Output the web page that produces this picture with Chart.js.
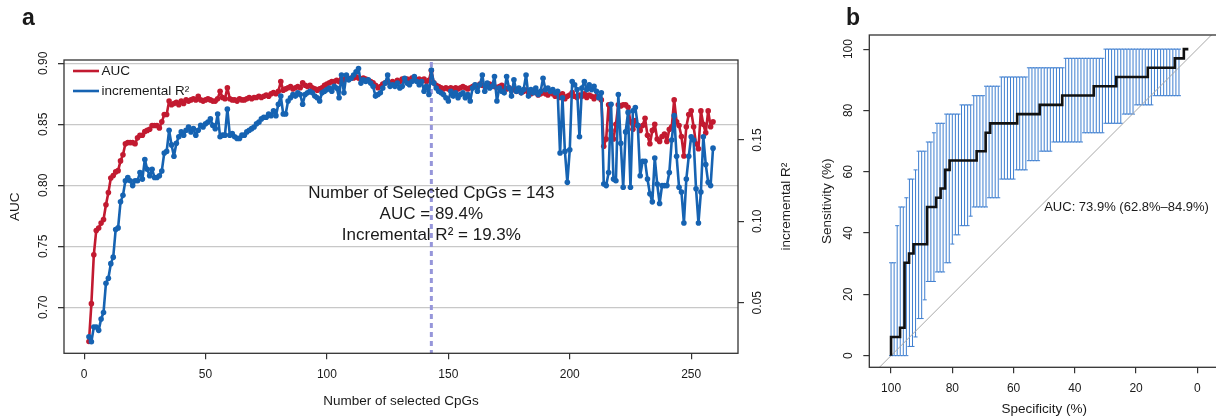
<!DOCTYPE html>
<html><head><meta charset="utf-8">
<script src="https://cdn.jsdelivr.net/npm/chart.js@4.4.1/dist/chart.umd.min.js"></script>
<style>
html,body{margin:0;padding:0;background:#fff;overflow:hidden;width:1216px;height:418px;}
#ca{position:absolute;left:0;top:0;}
#cb{position:absolute;left:800px;top:0;}
</style></head><body>
<canvas id="ca" width="800" height="418"></canvas>
<canvas id="cb" width="430" height="418"></canvas>
<script>
// ---------- Panel a data ----------
const nStart = 2;
const aucValues = [
0.672,0.703,0.743,0.763,0.765,0.769,0.772,0.784,0.794,0.806,
0.808,0.811,0.812,0.820,0.825,0.834,0.835,0.835,0.835,0.834,
0.839,0.841,0.841,0.844,0.845,0.846,0.849,0.849,0.849,0.847,
0.852,0.858,0.858,0.869,0.866,0.867,0.868,0.866,0.869,0.867,
0.870,0.869,0.870,0.871,0.870,0.873,0.870,0.869,0.870,0.871,
0.870,0.869,0.869,0.871,0.877,0.872,0.871,0.880,0.871,0.870,
0.870,0.869,0.871,0.870,0.870,0.871,0.872,0.871,0.872,0.872,
0.873,0.872,0.873,0.874,0.873,0.875,0.876,0.875,0.877,0.885,
0.878,0.879,0.880,0.881,0.879,0.880,0.881,0.880,0.884,0.882,
0.881,0.882,0.880,0.879,0.878,0.879,0.880,0.882,0.883,0.884,
0.885,0.885,0.886,0.885,0.887,0.886,0.888,0.887,0.888,0.888,
0.889,0.888,0.887,0.888,0.887,0.886,0.885,0.884,0.882,0.880,
0.881,0.883,0.884,0.885,0.884,0.885,0.884,0.886,0.885,0.887,
0.886,0.887,0.886,0.888,0.887,0.886,0.887,0.886,0.887,0.885,
0.886,0.894,0.884,0.882,0.881,0.880,0.879,0.880,0.879,0.880,
0.879,0.880,0.879,0.880,0.881,0.880,0.879,0.880,0.881,0.882,
0.881,0.883,0.882,0.881,0.882,0.883,0.882,0.881,0.880,0.881,
0.882,0.880,0.879,0.880,0.878,0.879,0.877,0.878,0.876,0.877,
0.878,0.876,0.875,0.877,0.876,0.874,0.875,0.877,0.875,0.874,
0.876,0.875,0.873,0.874,0.872,0.875,0.871,0.873,0.874,0.876,
0.873,0.872,0.874,0.873,0.875,0.872,0.874,0.873,0.871,0.873,
0.872,0.870,0.832,0.838,0.866,0.845,0.838,0.850,0.866,0.865,
0.866,0.866,0.864,0.852,0.846,0.853,0.849,0.845,0.849,0.855,
0.841,0.834,0.845,0.850,0.838,0.836,0.840,0.842,0.836,0.846,
0.848,0.870,0.852,0.849,0.840,0.824,0.848,0.858,0.861,0.848,
0.834,0.830,0.861,0.850,0.843,0.861,0.848,0.852];
const r2Values = [
0.029,0.026,0.035,0.035,0.033,0.040,0.044,0.062,0.065,0.074,
0.078,0.095,0.096,0.112,0.116,0.125,0.127,0.125,0.122,0.125,
0.125,0.130,0.126,0.138,0.132,0.128,0.132,0.127,0.127,0.128,
0.131,0.142,0.143,0.156,0.147,0.140,0.148,0.152,0.155,0.153,
0.156,0.158,0.155,0.157,0.153,0.156,0.159,0.158,0.160,0.161,
0.163,0.159,0.157,0.166,0.152,0.153,0.153,0.169,0.153,0.154,
0.152,0.151,0.151,0.153,0.153,0.155,0.156,0.157,0.158,0.160,
0.161,0.163,0.164,0.164,0.166,0.165,0.168,0.165,0.172,0.177,
0.166,0.166,0.174,0.176,0.178,0.177,0.179,0.178,0.172,0.178,
0.179,0.180,0.179,0.177,0.176,0.174,0.179,0.180,0.181,0.182,
0.180,0.183,0.182,0.176,0.190,0.179,0.190,0.187,0.188,0.190,
0.192,0.194,0.185,0.187,0.186,0.187,0.185,0.183,0.177,0.178,
0.179,0.182,0.185,0.190,0.183,0.184,0.183,0.185,0.182,0.183,
0.188,0.185,0.184,0.186,0.189,0.186,0.184,0.186,0.180,0.183,
0.178,0.193,0.185,0.182,0.180,0.179,0.178,0.176,0.174,0.180,
0.177,0.179,0.176,0.178,0.179,0.176,0.178,0.174,0.182,0.184,
0.180,0.184,0.190,0.180,0.185,0.182,0.183,0.189,0.174,0.182,
0.180,0.179,0.189,0.182,0.177,0.187,0.180,0.182,0.179,0.181,
0.190,0.177,0.181,0.179,0.182,0.178,0.180,0.188,0.181,0.182,
0.180,0.181,0.179,0.180,0.142,0.176,0.143,0.124,0.144,0.186,
0.184,0.181,0.152,0.182,0.186,0.181,0.184,0.181,0.183,0.180,
0.176,0.179,0.123,0.122,0.130,0.172,0.126,0.125,0.178,0.148,
0.121,0.155,0.167,0.121,0.168,0.170,0.159,0.128,0.137,0.137,
0.126,0.117,0.112,0.139,0.123,0.111,0.122,0.122,0.122,0.130,
0.150,0.165,0.140,0.121,0.118,0.099,0.126,0.140,0.152,0.150,
0.120,0.099,0.118,0.152,0.135,0.124,0.122,0.145];
const nCpGs = aucValues.map((_, i) => nStart + i);
const seriesNames = ['AUC', 'incremental R\u00B2'];
const xTicksA = [0, 50, 100, 150, 200, 250];
const aucTicks = [0.70, 0.75, 0.80, 0.85, 0.90];
const r2Ticks = [0.05, 0.10, 0.15];
const selectedN = 143;
const annotationLines = ['Number of Selected CpGs = 143', 'AUC = 89.4%', 'Incremental R\u00B2 = 19.3%'];

// ---------- Panel b data ----------
const rocSpec = [100, 97.06, 95.59, 94.12, 92.65, 88.24, 85.29, 83.82, 82.35, 80.88, 72.06, 69.12, 67.65, 58.82, 51.47, 44.12, 33.82, 26.47, 16.18, 7.35, 4.41, 2.94];
const rocSens = [0, 6.06, 9.09, 30.30, 33.33, 36.36, 48.48, 51.52, 54.55, 60.61, 63.64, 66.67, 72.73, 75.76, 78.79, 81.82, 84.85, 87.88, 90.91, 93.94, 96.97, 100];
const ciSpec = [100,99,98,97,96,95,94,93,92,91,90,89,88,87,86,85,84,83,82,81,80,79,78,77,76,75,74,73,72,71,70,69,68,67,66,65,64,63,62,61,60,59,58,57,56,55,54,53,52,51,50,49,48,47,46,45,44,43,42,41,40,39,38,37,36,35,34,33,32,31,30,29,28,27,26,25,24,23,22,21,20,19,18,17,16,15,14,13,12,11,10,9,8,7,6];
const ciLower = [
0,0,0,0,0,0,3.0,3.0,6.1,12.1,
12.1,18.2,24.2,24.2,24.2,27.3,27.3,27.3,30.3,30.3,
36.4,39.4,39.4,42.4,42.4,42.4,45.5,48.5,48.5,48.5,
48.5,48.5,51.5,51.5,51.5,51.5,57.6,57.6,57.6,57.6,
57.6,60.6,60.6,60.6,60.6,63.6,63.6,63.6,63.6,66.7,
66.7,66.7,66.7,69.7,69.7,69.7,69.7,69.7,69.7,69.7,
69.7,69.7,69.7,72.7,72.7,72.7,72.7,72.7,72.7,72.7,
75.8,75.8,75.8,75.8,75.8,75.8,78.8,78.8,78.8,78.8,
81.8,81.8,81.8,81.8,81.8,81.8,84.8,84.8,84.8,84.8,
84.8,84.8,84.8,84.8,84.8];
const ciUpper = [
30.3,30.3,42.4,48.5,48.5,51.5,57.6,57.6,60.6,66.7,
66.7,66.7,69.7,69.7,72.7,75.8,75.8,75.8,78.8,78.8,
78.8,78.8,78.8,81.8,81.8,81.8,81.8,84.8,84.8,84.8,
84.8,87.9,87.9,87.9,87.9,87.9,90.9,90.9,90.9,90.9,
90.9,90.9,90.9,90.9,90.9,93.9,93.9,93.9,93.9,93.9,
93.9,93.9,93.9,93.9,93.9,93.9,93.9,97.0,97.0,97.0,
97.0,97.0,97.0,97.0,97.0,97.0,97.0,97.0,97.0,97.0,
100,100,100,100,100,100,100,100,100,100,
100,100,100,100,100,100,100,100,100,100,
100,100,100,100,100];
const chanceSpec = [110, -10];
const chanceSens = [-10, 110];
const xTicksB = [100, 80, 60, 40, 20, 0];
const yTicksB = [0, 20, 40, 60, 80, 100];
const aucLabel = 'AUC: 73.9% (62.8%\u201384.9%)';
const aucLabelPos = [50, 50];

// ---------- styles ----------
const FONT = '"Liberation Sans", Arial, Helvetica, sans-serif';
const RED = '#c21a30';
const BLUE = '#1663b2';
const CI = '#3f7fd0';
const AXIS = '#333333';
const GRID = '#c8c8c8';
const TXT = '#1a1a1a';

function rotText(ctx, txt, x, y) {
  ctx.save(); ctx.translate(x, y); ctx.rotate(-Math.PI / 2);
  ctx.textAlign = 'center'; ctx.textBaseline = 'middle';
  ctx.fillText(txt, 0, 0); ctx.restore();
}
const fixTicks = arr => s => { s.ticks = arr.map(v => ({ value: v })); };

const panelA = {
  id: 'panelA',
  beforeDatasetsDraw(chart) {
    const { ctx, chartArea: ca, scales: { x } } = chart;
    const px = x.getPixelForValue(selectedN);
    ctx.save();
    ctx.strokeStyle = '#9696da'; ctx.lineWidth = 3; ctx.setLineDash([5, 4]);
    ctx.beginPath(); ctx.moveTo(px, ca.top + 2); ctx.lineTo(px, ca.bottom); ctx.stroke();
    ctx.restore();
  },
  afterDatasetsDraw(chart) {
    const { ctx, chartArea: ca, scales: { x, y, y2 } } = chart;
    ctx.save();
    ctx.strokeStyle = AXIS; ctx.lineWidth = 1.3;
    ctx.strokeRect(ca.left, ca.top, ca.right - ca.left, ca.bottom - ca.top);
    ctx.fillStyle = TXT;
    ctx.font = '12px ' + FONT;
    ctx.textAlign = 'center'; ctx.textBaseline = 'middle';
    xTicksA.forEach(v => ctx.fillText(String(v), x.getPixelForValue(v), 375));
    aucTicks.forEach(v => rotText(ctx, v.toFixed(2), 44, y.getPixelForValue(v)));
    r2Ticks.forEach(v => rotText(ctx, v.toFixed(2), 758, y2.getPixelForValue(v)));
    ctx.font = '13.5px ' + FONT;
    const cy = (ca.top + ca.bottom) / 2;
    ctx.fillText('Number of selected CpGs', (ca.left + ca.right) / 2, 401);
    rotText(ctx, 'AUC', 15, cy);
    rotText(ctx, 'incremental R\u00B2', 786, cy);
    // legend
    const ds = chart.data.datasets;
    [ds[1], ds[0]].forEach((d, i) => {
      const ly = 71 + i * 20;
      ctx.strokeStyle = d.borderColor; ctx.lineWidth = 2.6;
      ctx.beginPath(); ctx.moveTo(73, ly); ctx.lineTo(99, ly); ctx.stroke();
      ctx.textAlign = 'left'; ctx.fillText(d.label, 101.5, ly + 0.5);
    });
    // annotation
    ctx.font = '17px ' + FONT; ctx.textAlign = 'center';
    const ax = x.getPixelForValue(selectedN);
    annotationLines.forEach((t, i) => ctx.fillText(t, ax, 193.5 + i * 21));
    // panel letter
    ctx.font = 'bold 23px ' + FONT; ctx.textAlign = 'left'; ctx.textBaseline = 'alphabetic';
    ctx.fillText('a', 22, 25);
    ctx.restore();
  }
};

new Chart(document.getElementById('ca'), {
  type: 'line',
  data: {
    labels: nCpGs,
    datasets: [
      { label: seriesNames[1], data: r2Values, yAxisID: 'y2', borderColor: BLUE, backgroundColor: BLUE,
        pointBackgroundColor: BLUE, pointBorderWidth: 0, borderWidth: 2.6, pointRadius: 2.8, tension: 0,
        borderJoinStyle: 'round', borderCapStyle: 'round', order: 0 },
      { label: seriesNames[0], data: aucValues, yAxisID: 'y', borderColor: RED, backgroundColor: RED,
        pointBackgroundColor: RED, pointBorderWidth: 0, borderWidth: 2.6, pointRadius: 2.8, tension: 0,
        borderJoinStyle: 'round', borderCapStyle: 'round', order: 1 }
    ]
  },
  options: {
    responsive: false, animation: false, events: [],
    layout: { padding: { top: 60, left: 0, right: 0, bottom: 0 } },
    plugins: { legend: { display: false }, tooltip: { enabled: false } },
    scales: {
      x: { type: 'linear', offset: false, min: -8.28, max: 269.28, afterBuildTicks: fixTicks(xTicksA),
        afterFit: s => { s.height = 64.7; }, ticks: { display: false },
        grid: { offset: false, drawOnChartArea: false, tickLength: 6, tickColor: AXIS, lineWidth: 1.2 }, border: { display: false } },
      y: { position: 'left', min: 0.6623, max: 0.9027, afterBuildTicks: fixTicks(aucTicks),
        afterFit: s => { s.width = 64; }, ticks: { display: false },
        grid: { color: GRID, lineWidth: 1.3, tickLength: 6, tickColor: AXIS }, border: { display: false } },
      y2: { position: 'right', min: 0.0189, max: 0.1992, afterBuildTicks: fixTicks(r2Ticks),
        afterFit: s => { s.width = 62; }, ticks: { display: false },
        grid: { drawOnChartArea: false, tickLength: 6, tickColor: AXIS, lineWidth: 1.2 }, border: { display: false } }
    }
  },
  plugins: [panelA]
});

const panelB = {
  id: 'panelB',
  afterDatasetsDraw(chart) {
    const { ctx, chartArea: ca, scales: { x, y } } = chart;
    ctx.save();
    ctx.strokeStyle = AXIS; ctx.lineWidth = 1.3;
    ctx.strokeRect(ca.left, ca.top, ca.right - ca.left, ca.bottom - ca.top);
    ctx.fillStyle = TXT;
    ctx.font = '12px ' + FONT;
    ctx.textAlign = 'center'; ctx.textBaseline = 'middle';
    xTicksB.forEach(v => ctx.fillText(String(v), x.getPixelForValue(v), 389));
    yTicksB.forEach(v => rotText(ctx, String(v), 49, y.getPixelForValue(v)));
    ctx.font = '13.5px ' + FONT;
    ctx.fillText('Specificity (%)', (ca.left + ca.right) / 2, 409);
    rotText(ctx, 'Sensitivity (%)', 27.5, (ca.top + ca.bottom) / 2);
    ctx.font = '13px ' + FONT; ctx.textAlign = 'left';
    ctx.fillText(aucLabel, x.getPixelForValue(aucLabelPos[0]), y.getPixelForValue(aucLabelPos[1]) + 5);
    ctx.font = 'bold 23px ' + FONT; ctx.textBaseline = 'alphabetic';
    ctx.fillText('b', 46, 25);
    ctx.restore();
  }
};

new Chart(document.getElementById('cb'), {
  type: 'scatter',
  data: {
    datasets: [
      { type: 'line', label: 'ROC', data: rocSpec.map((s, i) => ({ x: s, y: rocSens[i] })), stepped: 'after',
        borderColor: '#111111', borderWidth: 2.6, pointRadius: 0, fill: false, order: 0 },
      { type: 'line', label: 'chance', data: chanceSpec.map((s, i) => ({ x: s, y: chanceSens[i] })),
        borderColor: '#a8a8a8', borderWidth: 1, pointRadius: 0, fill: false, order: 1 },
      { type: 'scatter', label: 'upper', data: ciSpec.map((s, i) => ({ x: s, y: ciUpper[i] })),
        pointStyle: 'line', pointRadius: 2, borderColor: CI, borderWidth: 1, order: 2 },
      { type: 'scatter', label: 'lower', data: ciSpec.map((s, i) => ({ x: s, y: ciLower[i] })),
        pointStyle: 'line', pointRadius: 2, borderColor: CI, borderWidth: 1, order: 2 },
      { type: 'bar', label: 'CI', data: ciSpec.map((s, i) => ({ x: s, y: [ciLower[i], ciUpper[i]] })),
        backgroundColor: CI, borderWidth: 0, barThickness: 1, inflateAmount: 0, order: 3 }
    ]
  },
  options: {
    responsive: false, animation: false, events: [],
    layout: { padding: { top: 35, right: 10.9, left: 0, bottom: 0 } },
    plugins: { legend: { display: false }, tooltip: { enabled: false } },
    scales: {
      x: { type: 'linear', offset: false, reverse: true, min: -7.1, max: 107.1, afterBuildTicks: fixTicks(xTicksB),
        afterFit: s => { s.height = 50.7; }, ticks: { display: false },
        grid: { offset: false, drawOnChartArea: false, tickLength: 6, tickColor: AXIS, lineWidth: 1.2 }, border: { display: false } },
      y: { type: 'linear', offset: false, min: -3.8, max: 104.6, afterBuildTicks: fixTicks(yTicksB),
        afterFit: s => { s.width = 69.3; }, ticks: { display: false },
        grid: { offset: false, drawOnChartArea: false, tickLength: 6, tickColor: AXIS, lineWidth: 1.2 }, border: { display: false } }
    }
  },
  plugins: [panelB]
});
</script>
</body></html>
